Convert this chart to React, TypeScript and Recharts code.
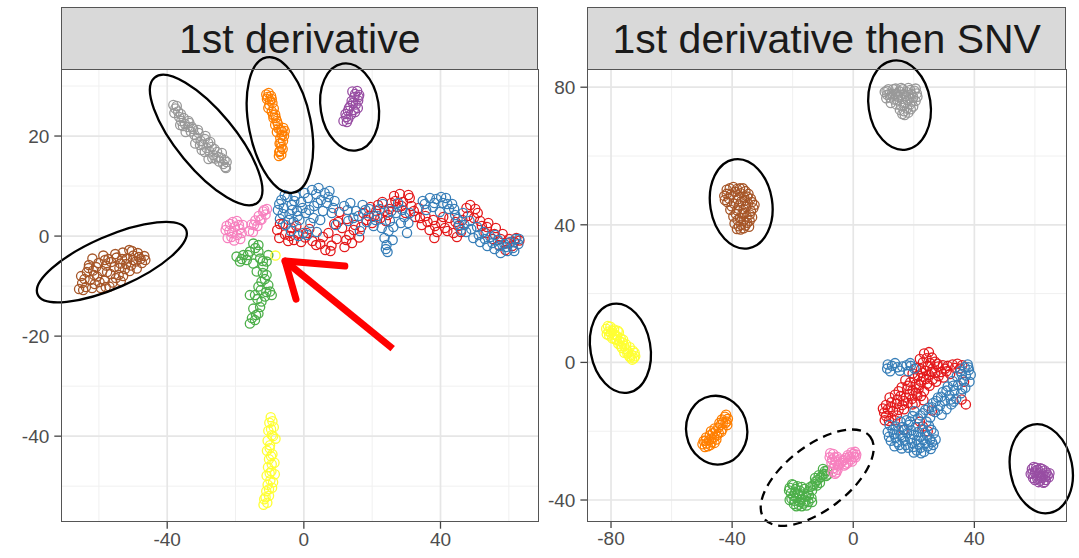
import React from 'react';
import {
  ScatterChart,
  Scatter,
  XAxis,
  YAxis,
  CartesianGrid,
  ReferenceDot,
  ReferenceLine,
} from 'recharts';

type Pt = [number, number];

// Set1 brewer palette, one colour per sample group
const RED = '#E41A1C';
const BLUE = '#377EB8';
const GREEN = '#4DAF4A';
const PURPLE = '#984EA3';
const ORANGE = '#FF7F00';
const YELLOW = '#FFFF33';
const BROWN = '#A65628';
const PINK = '#F781BF';
const GREY = '#999999';

// ---- panel 1: "1st derivative" ----
const d1Grey: Pt[] = [
  [-38.2, 26.2], [-37.6, 25.5], [-37.9, 24.6], [-36.8, 24.9], [-36.5, 23.8], [-35.9, 23.0], [-35.2, 23.6],
  [-34.8, 22.4], [-34.0, 21.8], [-33.5, 22.6], [-33.1, 20.9], [-32.4, 21.4], [-32.0, 20.2], [-31.3, 19.6],
  [-30.8, 20.6], [-30.2, 19.0], [-29.6, 18.3], [-29.0, 19.4], [-28.5, 17.6], [-28.0, 18.6], [-27.6, 16.9],
  [-27.0, 17.8], [-26.5, 16.2], [-25.9, 15.5], [-25.4, 16.8], [-24.8, 14.9], [-24.2, 15.6], [-23.6, 14.4],
  [-23.0, 13.8], [-22.6, 14.8], [-31.8, 18.5], [-29.9, 17.2], [-27.9, 15.4], [-34.6, 20.8], [-36.2, 22.2],
  [-37.2, 26.0], [-36.0, 24.4], [-35.4, 22.0], [-33.8, 23.0], [-32.8, 21.8], [-31.0, 21.2], [-30.4, 18.2],
  [-28.8, 20.0], [-27.4, 18.8], [-26.2, 17.4], [-25.0, 15.8], [-24.0, 16.6], [-23.2, 15.2], [-22.8, 13.6],
  [-26.8, 15.6], [-29.0, 16.8],
];
const d1Orange: Pt[] = [
  [-11.0, 28.3], [-10.3, 28.6], [-9.6, 28.0], [-10.8, 27.4], [-9.9, 27.1], [-9.2, 26.6], [-10.1, 26.2],
  [-8.8, 25.5], [-9.4, 24.9], [-8.4, 24.3], [-8.9, 23.6], [-7.9, 23.0], [-8.4, 22.2], [-7.4, 21.5],
  [-7.9, 20.8], [-6.4, 20.9], [-5.8, 20.0], [-6.9, 19.6], [-6.1, 19.0], [-7.1, 18.5], [-6.6, 17.8],
  [-7.0, 17.0], [-6.6, 16.3], [-7.3, 16.0], [-6.0, 21.6], [-10.6, 27.8], [-9.4, 27.4], [-10.4, 25.6],
  [-9.0, 24.2], [-8.2, 23.6], [-7.6, 22.4], [-6.8, 21.2], [-5.6, 21.0], [-6.4, 20.2], [-6.8, 18.6],
  [-6.2, 17.4], [-7.2, 16.8],
];
const d1Purple: Pt[] = [
  [14.2, 28.9], [15.6, 29.0], [16.2, 28.2], [14.8, 27.8], [15.9, 27.1], [14.0, 27.0], [15.2, 26.3],
  [13.6, 26.0], [14.6, 25.2], [12.9, 25.0], [13.8, 24.3], [12.4, 23.8], [11.6, 23.0], [12.6, 22.8], [15.8, 25.6],
  [15.0, 28.4], [16.0, 27.8], [14.4, 26.6], [13.2, 25.6], [12.2, 24.4], [13.0, 23.4], [15.0, 24.8],
];
const d1Brown: Pt[] = [
  [-65.8, -10.6], [-64.9, -9.4], [-65.2, -8.0], [-63.8, -10.2], [-63.5, -7.2], [-62.6, -8.8], [-62.9, -5.8],
  [-61.7, -6.9], [-61.2, -9.6], [-60.5, -8.1], [-60.1, -5.4], [-59.4, -10.4], [-59.0, -7.0], [-58.3, -8.9],
  [-57.9, -5.9], [-57.2, -4.6], [-56.6, -7.6], [-56.0, -9.3], [-55.5, -6.2], [-54.8, -4.3], [-54.2, -7.8],
  [-53.7, -5.5], [-53.0, -3.3], [-52.4, -6.6], [-51.8, -4.5], [-51.1, -2.8], [-50.6, -5.9], [-49.9, -3.9],
  [-49.2, -5.1], [-48.3, -4.2], [-47.4, -5.4], [-46.7, -4.0], [-55.2, -3.6], [-58.7, -3.9], [-61.9, -4.5],
  [-63.0, -6.4], [-50.3, -3.0], [-52.9, -8.0], [-48.9, -6.5], [-56.9, -10.1],
  [-64.6, -10.8], [-64.2, -8.6], [-62.0, -10.4], [-61.4, -7.8], [-60.8, -6.2], [-59.8, -9.2], [-58.0, -10.2],
  [-57.6, -7.2], [-56.4, -5.2], [-55.0, -8.4], [-54.0, -6.4], [-53.2, -4.6], [-52.0, -5.6], [-51.0, -7.0],
  [-50.0, -4.8], [-48.6, -3.4], [-47.8, -4.6], [-46.4, -4.8], [-53.6, -9.0], [-58.2, -4.8],
];
const d1Pink: Pt[] = [
  [-22.9, 1.2], [-22.3, -0.4], [-21.6, 2.4], [-21.0, 0.6], [-20.4, -0.9], [-20.2, 1.8], [-19.6, 3.0],
  [-19.5, 0.2], [-18.8, 1.4], [-18.6, -0.6], [-17.9, 2.2], [-16.0, 1.0], [-15.3, 2.3], [-14.9, 0.8],
  [-14.2, 3.1], [-13.6, 2.0], [-13.2, 4.0], [-12.4, 3.3], [-11.9, 4.9], [-11.2, 4.3], [-10.8, 5.4],
  [-22.6, 2.0], [-21.8, 1.0], [-20.8, 2.8], [-19.0, 2.2], [-18.2, 0.6], [-21.2, -0.2], [-14.6, 2.2],
  [-12.8, 3.2], [-11.6, 5.2],
];
const d1Green: Pt[] = [
  [-14.8, -1.5], [-13.3, -1.8], [-19.7, -4.1], [-17.7, -3.8], [-15.8, -3.1], [-12.8, -4.5], [-14.8, -5.5],
  [-10.4, -3.8], [-10.9, -5.1], [-11.9, -6.1], [-13.8, -7.1], [-10.9, -7.8], [-12.4, -9.1], [-13.3, -10.1],
  [-10.4, -9.8], [-9.9, -11.1], [-14.3, -11.8], [-11.4, -12.1], [-12.4, -13.1], [-14.8, -14.5], [-13.3, -15.5],
  [-14.3, -16.8], [-15.8, -17.5], [-18.7, -5.1], [-16.7, -4.8], [-13.3, -3.1], [-9.4, -11.8], [-15.8, -11.8],
  [-14.2, -2.4], [-16.4, -3.8], [-18.2, -4.6], [-12.0, -5.0], [-12.0, -7.4], [-11.4, -8.6], [-12.6, -10.8],
  [-11.0, -11.2], [-13.6, -12.6], [-12.8, -14.2], [-14.0, -15.8], [-15.2, -16.4],
];
const d1Yellow: Pt[] = [
  [-8.3, -3.9],
  [-9.7, -36.2], [-10.1, -37.3], [-8.8, -38.2], [-10.4, -38.9], [-9.4, -39.8], [-10.6, -40.9], [-8.3, -40.5],
  [-9.9, -41.8], [-10.8, -42.9], [-9.2, -43.6], [-10.2, -44.6], [-8.6, -45.3], [-10.5, -46.2], [-9.5, -47.0],
  [-8.5, -47.6], [-10.9, -47.9], [-9.8, -48.8], [-10.6, -49.7], [-9.3, -50.3], [-11.0, -51.0], [-10.2, -51.9],
  [-11.6, -52.6], [-10.7, -53.3], [-11.8, -53.7], [-9.2, -37.0], [-9.6, -38.6], [-9.0, -40.0], [-10.0, -42.4],
  [-9.6, -44.0], [-9.4, -45.6], [-10.0, -47.4], [-9.0, -49.2], [-10.2, -50.6], [-11.2, -52.2],
];
const d1Red: Pt[] = [
  [-7.8, 1.2], [-7.2, -0.4], [-6.1, 2.4], [-5.5, 0.3], [-4.6, -1.0], [-3.7, 1.6], [-2.9, -0.8], [-1.8, 0.5],
  [-0.8, -1.2], [0.4, -0.3], [1.6, 1.4], [2.5, -1.0], [4.8, -1.6], [6.3, -2.8], [7.2, 0.6], [8.1, -1.9],
  [8.9, 2.4], [9.6, -0.6], [10.4, 4.8], [11.2, 1.6], [11.9, -2.2], [12.6, 3.4], [13.3, 0.2], [14.1, -1.4],
  [15.0, 2.2], [16.2, -0.3], [17.4, 4.6], [18.3, 3.2], [19.5, 5.8], [20.6, 4.0], [21.7, 6.2], [22.4, 3.6],
  [23.6, 5.0], [24.6, 4.2], [25.6, 6.6], [26.4, 8.0], [27.3, 5.8], [28.1, 8.4], [29.0, 6.8], [29.8, 4.6],
  [30.6, 8.2], [31.5, 6.0], [32.6, 3.8], [33.6, 5.6], [34.5, 2.2], [35.6, 4.0], [36.8, 1.2], [37.9, 3.2],
  [39.0, 0.8], [40.2, 2.6], [41.3, 1.6], [42.6, 3.6], [43.8, 0.6], [45.2, 2.0], [46.4, 3.2], [47.6, 5.6],
  [48.7, 6.2], [49.8, 3.6], [50.9, 4.6], [52.1, 2.0], [53.2, 0.6], [54.0, 2.6], [55.2, -0.6], [56.2, 1.6],
  [57.1, -1.8], [58.2, 0.4], [59.0, -2.8], [60.1, -0.6], [61.0, -2.0], [62.2, -0.4], [63.1, -0.9],
  [-7.0, 2.4], [-4.0, 0.0], [-2.2, 2.0], [0.8, 0.6], [3.6, -1.8], [5.6, -0.2], [7.8, -3.0], [10.0, 2.8],
  [12.4, -0.8], [14.6, 1.2], [16.8, 1.8], [19.0, 4.0], [21.2, 5.0], [23.0, 6.8], [25.0, 5.4], [26.8, 7.0],
  [28.6, 6.0], [31.0, 7.6], [32.2, 5.0], [34.0, 3.6], [36.2, 2.8], [38.4, 2.0], [40.8, 3.8], [42.0, 1.0],
  [44.4, 2.8], [46.0, 0.8], [48.0, 4.0], [50.2, 5.4], [51.6, 3.0], [53.6, 1.8], [55.8, 0.4], [57.6, -0.6],
  [59.6, -1.4], [61.6, -1.2], [44.8, -0.2], [38.2, -0.4], [24.0, 3.0], [20.0, 2.6],
];
const d1Blue: Pt[] = [
  [-7.6, 5.2], [-7.0, 3.4], [-6.6, 7.2], [-5.9, 5.6], [-5.3, 2.2], [-4.8, 7.8], [-4.2, 4.4], [-3.6, 6.2],
  [-3.0, 2.8], [-2.5, 8.0], [-2.0, 5.0], [-1.3, 3.2], [-0.8, 6.8], [-0.2, 0.6], [0.6, 4.6], [1.2, 7.6],
  [1.9, 2.6], [2.4, 9.2], [3.0, 6.0], [3.6, 8.4], [4.3, 9.6], [5.0, 7.2], [5.6, 5.0], [6.1, 8.6],
  [6.8, 6.6], [7.5, 9.0], [8.2, 4.6], [9.0, 7.0], [9.4, 2.2], [1.0, 0.2], [-1.6, 0.0], [3.8, 0.8],
  [12.8, 5.2], [13.6, 6.6], [14.5, 3.6], [15.3, 5.0], [16.4, 1.0], [17.2, 6.2], [18.4, 2.8], [19.1, 5.4],
  [20.4, 2.0], [21.5, 4.0], [22.8, 1.6], [23.6, -0.4], [24.2, -1.8], [24.5, -3.2], [23.1, 6.4], [25.2, 3.0],
  [26.2, 1.8], [27.0, 4.6], [27.6, 6.6], [28.4, 2.6], [29.4, 3.8], [30.2, 0.6], [31.0, 4.6], [26.0, -0.8],
  [34.8, 7.0], [35.8, 5.2], [36.9, 7.6], [37.8, 5.8], [38.8, 7.4], [39.8, 4.8], [40.7, 6.6], [41.6, 7.6],
  [42.5, 5.4], [43.4, 6.4], [44.3, 4.2], [45.5, 2.2], [46.6, 4.6], [47.5, 0.8], [48.5, 3.0], [49.6, -0.4],
  [50.7, 1.8], [51.6, -1.2], [52.6, 0.8], [53.7, -2.0], [54.6, -0.2], [55.8, -2.6], [56.8, -0.8], [57.6, -3.4],
  [58.7, -1.6], [59.6, -3.0], [60.4, -1.2], [61.2, -2.4], [62.0, -0.6], [62.8, -1.6],
  [-7.2, 6.4], [-6.2, 4.4], [-5.6, 8.2], [-4.4, 3.2], [-3.4, 5.2], [-2.8, 7.0], [-1.8, 4.0], [-0.4, 5.6],
  [0.2, 8.6], [1.6, 5.2], [2.8, 3.6], [4.0, 6.6], [4.8, 3.2], [7.2, 7.8], [8.6, 5.6], [-3.8, 1.0],
  [11.8, 6.0], [13.0, 3.0], [16.0, 4.0], [18.0, 5.2], [21.0, 3.2], [22.2, 5.4], [24.8, 1.0], [24.0, -2.6],
  [25.6, 5.0], [28.8, 5.2], [30.6, 2.6], [35.4, 6.4], [38.2, 6.6], [40.2, 7.8], [42.0, 6.4], [44.0, 5.4],
  [45.0, 3.4], [47.0, 2.2], [49.0, 1.4], [51.2, 0.2], [53.0, -0.6], [55.2, -1.4], [57.2, -2.0], [59.2, -2.2],
  [61.6, -3.0], [63.0, -0.6], [56.0, 0.2], [46.0, 1.2],
];

// ---- panel 2: "1st derivative then SNV" ----
const d2Grey: Pt[] = [
  [10.4, 78.6], [11.6, 79.4], [12.8, 78.2], [14.0, 79.6], [15.2, 78.8], [16.4, 79.4], [17.6, 78.6], [18.8, 79.2],
  [20.2, 79.0], [21.0, 78.2], [10.9, 76.8], [12.2, 77.0], [13.5, 76.4], [14.8, 77.2], [16.0, 76.6], [17.4, 77.4],
  [18.6, 76.8], [19.8, 77.0], [20.6, 76.0], [12.4, 75.4], [14.2, 75.0], [15.8, 74.6], [17.2, 75.4], [18.8, 75.0],
  [19.8, 74.4], [15.4, 73.4], [16.8, 73.0], [18.2, 72.6], [17.0, 71.9], [19.0, 73.6], [11.2, 77.8], [13.6, 78.0],
  [11.0, 79.0], [13.2, 79.4], [15.8, 79.8], [18.2, 79.8], [20.6, 79.6], [12.0, 78.0], [14.4, 78.0], [16.8, 78.0],
  [19.2, 78.0], [21.2, 77.2], [13.0, 77.6], [15.6, 77.8], [18.0, 76.2], [19.4, 75.8], [16.6, 74.8], [14.6, 76.2],
  [16.2, 72.2], [17.8, 73.8],
];
const d2Brown: Pt[] = [
  [-41.8, 50.2], [-39.6, 51.0], [-37.4, 50.6], [-35.6, 49.8], [-42.6, 48.4], [-40.4, 48.8], [-38.2, 48.6],
  [-36.0, 48.0], [-33.8, 47.6], [-41.6, 46.6], [-39.4, 46.2], [-37.0, 46.8], [-34.8, 46.2], [-32.6, 45.8],
  [-40.6, 44.4], [-38.4, 44.2], [-36.2, 44.6], [-33.8, 44.0], [-39.6, 42.4], [-37.4, 42.0], [-35.2, 42.4],
  [-33.4, 42.2], [-39.2, 40.4], [-37.0, 40.0], [-35.0, 40.6], [-38.4, 38.8], [-36.2, 39.0], [-34.4, 39.4],
  [-41.0, 47.6], [-36.6, 43.2], [-40.8, 50.6], [-38.4, 50.4], [-36.4, 50.6], [-34.6, 49.0], [-41.8, 49.0],
  [-39.0, 49.6], [-37.2, 49.2], [-35.0, 48.2], [-42.4, 47.2], [-38.2, 47.4], [-35.8, 47.0], [-33.4, 46.6],
  [-40.2, 45.4], [-37.8, 45.6], [-35.4, 45.2], [-33.0, 44.8], [-38.8, 43.2], [-36.0, 43.4], [-34.2, 43.0],
  [-38.2, 41.4], [-36.2, 41.2], [-34.2, 41.2], [-37.8, 39.6], [-35.6, 39.8], [-37.2, 38.6],
];
const d2Yellow: Pt[] = [
  [-81.6, 9.8], [-80.2, 10.4], [-79.0, 9.6], [-81.4, 8.2], [-80.0, 8.6], [-78.6, 8.0], [-77.4, 8.8],
  [-79.6, 7.0], [-78.2, 6.6], [-76.8, 7.0], [-77.6, 5.4], [-76.2, 5.8], [-75.0, 5.2], [-76.4, 4.2],
  [-75.0, 3.8], [-73.8, 4.4], [-74.6, 2.6], [-73.2, 2.2], [-72.2, 2.8], [-73.6, 1.4], [-72.4, 1.2],
  [-80.8, 9.0], [-78.0, 7.6], [-75.6, 4.8], [-81.0, 10.6], [-79.6, 9.2], [-80.6, 7.8], [-79.0, 8.2],
  [-77.8, 9.2], [-78.8, 6.8], [-77.2, 6.2], [-76.0, 6.6], [-76.8, 4.8], [-74.4, 3.2], [-75.6, 2.8],
  [-72.8, 3.4], [-73.0, 0.8], [-72.0, 1.8], [-74.0, 1.8],
];
const d2Orange: Pt[] = [
  [-42.4, -15.8], [-41.4, -16.4], [-43.4, -16.6], [-42.2, -17.6], [-43.8, -18.2], [-44.6, -19.0], [-43.2, -19.4],
  [-45.4, -20.0], [-44.4, -20.6], [-46.4, -20.6], [-47.4, -21.2], [-46.0, -21.8], [-48.6, -21.8], [-47.6, -22.6],
  [-49.4, -22.8], [-48.4, -23.6], [-46.8, -23.2], [-49.8, -23.8], [-48.0, -24.4], [-45.2, -22.4], [-41.8, -17.2],
  [-42.0, -15.2], [-43.0, -17.4], [-41.6, -18.2], [-44.2, -17.6], [-43.6, -20.2], [-45.8, -19.2], [-45.0, -21.2],
  [-47.0, -20.0], [-46.8, -22.2], [-48.8, -22.8], [-47.2, -24.0], [-49.0, -24.6], [-45.8, -23.4],
];
const d2Green: Pt[] = [
  [-21.0, -36.4], [-19.8, -35.6], [-18.4, -36.0], [-20.6, -38.0], [-19.2, -37.8], [-17.6, -37.4], [-16.2, -36.8],
  [-20.4, -39.6], [-18.8, -39.4], [-17.2, -39.8], [-15.6, -39.0], [-19.6, -41.2], [-18.0, -41.4], [-16.4, -41.0],
  [-14.8, -40.6], [-13.8, -39.4], [-15.0, -37.6], [-14.2, -36.2], [-12.8, -35.4], [-11.8, -34.2], [-10.8, -33.4],
  [-9.6, -32.4], [-8.6, -31.4], [-10.0, -31.0], [-11.4, -32.8], [-12.6, -33.6], [-9.0, -33.0], [-17.8, -38.6],
  [-20.2, -35.4], [-19.0, -36.8], [-17.0, -36.2], [-21.2, -37.2], [-19.8, -38.8], [-18.2, -38.2], [-16.8, -38.4],
  [-21.0, -40.0], [-19.4, -40.2], [-17.6, -40.6], [-15.8, -40.4], [-18.8, -41.8], [-17.0, -41.8], [-15.4, -41.6],
  [-13.6, -40.6], [-14.6, -38.6], [-13.6, -37.2], [-12.0, -35.8], [-11.0, -35.0], [-10.2, -32.8], [-9.4, -31.6],
  [-8.4, -32.6], [-12.4, -34.6], [-13.4, -35.8],
];
const d2Pink: Pt[] = [
  [-7.8, -27.6], [-6.6, -26.6], [-5.4, -27.4], [-7.2, -29.2], [-5.8, -28.8], [-4.6, -29.6], [-6.6, -30.8],
  [-5.2, -31.2], [-6.0, -32.4], [-3.6, -28.6], [-2.4, -27.8], [-1.2, -27.4], [0.0, -26.6], [0.8, -27.6],
  [-0.4, -28.8], [-1.8, -29.2], [0.6, -26.0], [-3.0, -30.0], [-7.6, -26.4], [-6.2, -27.6], [-7.0, -28.2],
  [-6.2, -29.8], [-5.0, -30.0], [-6.8, -31.8], [-5.6, -32.0], [-4.0, -29.2], [-3.0, -28.4], [-1.8, -27.0],
  [-0.6, -26.2], [0.2, -27.4], [-0.8, -28.2], [1.0, -26.8], [-2.4, -29.6], [-4.6, -28.2],
];
const d2Purple: Pt[] = [
  [59.0, -31.0], [60.4, -30.6], [61.8, -30.8], [63.2, -31.4], [58.6, -32.4], [60.0, -32.0], [61.4, -32.2],
  [62.8, -32.6], [64.2, -32.8], [59.4, -33.6], [60.8, -33.8], [62.2, -33.6], [63.6, -34.2], [61.2, -34.8],
  [62.8, -35.0], [64.6, -33.4], [59.6, -30.4], [61.0, -31.2], [62.4, -31.0], [63.8, -32.0], [59.2, -32.2],
  [60.6, -32.8], [62.0, -33.0], [63.4, -33.2], [64.8, -32.2], [60.0, -34.2], [61.8, -34.4], [63.2, -34.8],
  [60.4, -31.4], [61.6, -33.6],
];
const d2Red: Pt[] = [
  [23.4, 2.6], [25.0, 3.0], [24.2, 1.2], [26.0, 1.4], [23.0, 0.0], [25.4, -0.2], [27.0, 0.2],
  [20.8, -1.6], [22.4, -2.0], [24.0, -2.4], [26.2, -1.8], [28.0, -1.2], [29.6, -0.8], [31.2, -1.0],
  [32.8, -0.6], [34.4, -0.4], [36.0, -0.8], [19.6, -3.2], [21.4, -3.8], [23.2, -4.2], [25.0, -3.6],
  [27.0, -3.0], [29.0, -2.8], [30.8, -2.6], [17.2, -5.2], [18.8, -5.8], [20.6, -6.4], [22.4, -5.6],
  [24.4, -6.2], [26.2, -5.0], [16.0, -7.2], [17.8, -7.8], [19.6, -8.2], [21.6, -7.6], [23.4, -8.4],
  [13.8, -9.4], [15.6, -9.8], [17.4, -10.2], [19.4, -10.6], [21.2, -9.6], [12.6, -11.6], [14.4, -12.0],
  [16.2, -12.4], [18.0, -11.8], [11.4, -13.6], [13.2, -14.2], [15.0, -13.8], [10.8, -15.6], [12.6, -16.2],
  [14.4, -15.4], [11.8, -17.0], [35.8, -10.8], [37.2, -12.2], [36.6, -5.6], [23.0, -18.6], [24.6, -20.0],
  [22.0, -17.2], [26.0, -14.0], [16.6, -19.6],
  [22.0, 1.0], [24.6, -1.0], [27.8, -0.4], [30.4, -1.8], [33.6, -1.6], [35.2, -1.8], [20.2, -4.6],
  [22.8, -3.0], [26.0, -2.8], [28.2, -4.0], [24.0, -4.8], [18.0, -6.8], [21.8, -6.6], [25.2, -6.8],
  [27.4, -5.6], [15.0, -8.4], [18.6, -9.2], [20.8, -8.8], [22.4, -9.8], [12.0, -10.2], [14.6, -10.8],
  [16.8, -11.2], [19.6, -12.2], [10.8, -12.4], [12.4, -13.0], [16.8, -13.6], [10.2, -14.6], [13.8, -16.8],
  [10.4, -16.8], [9.8, -13.4], [29.8, -4.4], [32.0, -3.4], [23.2, -11.0], [20.6, -11.8],
];
const d2Blue: Pt[] = [
  [11.4, -0.6], [12.8, -1.0], [12.2, -2.6], [14.6, -1.4], [16.2, -1.2], [17.6, -0.8], [19.0, -1.0],
  [20.2, -1.8], [18.2, -2.6], [36.8, -1.4], [38.2, -2.2], [35.4, -2.6], [37.2, -3.8], [34.2, -4.0],
  [36.2, -5.0], [38.4, -5.6], [32.8, -5.4], [34.6, -6.6], [37.0, -7.4], [31.2, -7.0], [33.4, -8.2],
  [35.6, -9.0], [29.6, -8.6], [31.8, -9.6], [34.0, -10.6], [28.0, -10.2], [30.2, -11.2], [32.4, -12.2],
  [26.4, -11.8], [28.6, -12.6], [30.8, -13.6], [24.8, -13.2], [27.0, -14.4], [29.2, -15.2], [23.0, -14.8],
  [25.4, -16.0], [21.4, -16.2], [19.6, -15.6], [17.6, -16.8], [15.6, -17.2], [12.0, -18.2], [14.0, -18.6],
  [16.2, -18.8], [18.4, -18.2], [20.6, -18.8], [22.8, -19.4], [25.0, -18.4], [11.4, -20.2], [13.4, -20.8],
  [15.6, -21.2], [17.8, -20.6], [20.0, -21.0], [22.2, -21.6], [24.4, -21.4], [26.6, -20.6], [12.4, -22.8],
  [14.6, -23.2], [17.0, -22.8], [19.4, -23.4], [21.6, -23.8], [23.8, -23.6], [26.0, -23.2], [16.0, -25.0],
  [18.2, -24.8], [21.0, -25.6], [23.4, -26.0], [25.6, -25.2], [27.2, -22.4],
  [11.2, -1.8], [13.8, -0.2], [15.4, -2.4], [18.8, -0.2], [37.8, -0.6], [38.8, -3.6], [35.8, -3.4],
  [33.0, -6.8], [36.0, -7.8], [32.2, -10.8], [30.8, -8.2], [29.0, -10.0], [27.4, -11.2], [26.0, -13.0],
  [23.8, -13.8], [22.2, -15.4], [20.2, -14.2], [24.2, -17.2], [28.0, -13.8], [33.2, -11.4], [18.8, -17.2],
  [13.0, -19.6], [15.0, -19.8], [17.0, -19.6], [19.2, -19.8], [21.4, -20.2], [23.6, -20.4], [25.8, -19.6],
  [11.8, -21.6], [14.0, -22.0], [16.4, -21.8], [18.8, -22.2], [21.0, -22.6], [23.2, -22.6], [25.4, -22.4],
  [13.6, -24.4], [15.2, -24.0], [17.4, -24.0], [19.8, -24.6], [22.2, -24.8], [24.6, -24.4], [20.0, -26.2],
  [22.4, -26.4], [26.4, -24.0], [38.0, -1.4],
];

// axis breaks
const p1XTicks = [-40, 0, 40];
const p1XMinor = [-60, -20, 20, 60];
const p1YTicks = [-40, -20, 0, 20];
const p1YMinor = [-50, -30, -10, 10, 30];
const p2XTicks = [-80, -40, 0, 40];
const p2XMinor = [-60, -20, 20, 60];
const p2YTicks = [-40, 0, 40, 80];
const p2YMinor = [-20, 20, 60];

// hand-drawn annotations: centre in data units, radii in px, rotation in degrees
const p1Rings = [
  { x: -28.6, y: 19.2, rx: 81, ry: 29, rot: 50.5 },
  { x: -7.0, y: 22.2, rx: 69, ry: 31, rot: 78.8 },
  { x: 13.4, y: 25.8, rx: 44, ry: 29, rot: 80.7 },
  { x: -56.2, y: -5.2, rx: 81, ry: 26, rot: -23.6 },
];
const p2Rings = [
  { x: 15.3, y: 74.8, rx: 45, ry: 31, rot: 81.5 },
  { x: -37.0, y: 46.1, rx: 45, ry: 31, rot: 81 },
  { x: -76.9, y: 4.1, rx: 45, ry: 30, rot: 80 },
  { x: -45.1, y: -19.7, rx: 34.5, ry: 30.5, rot: 80 },
  { x: 62.1, y: -30.9, rx: 45, ry: 31, rot: 79 },
  { x: -11.9, y: -33.5, rx: 67, ry: 32, rot: -37.7, dashed: true },
];
// red arrow: tail, tip, two barbs
const arrowTail = { x: 26.0, y: -22.5 };
const arrowTip = { x: -5.5, y: -5.0 };
const arrowBarbs = [{ x: 12.0, y: -6.0 }, { x: -2.3, y: -12.6 }];

const H = 558;
const STRIP_TOP = 7;
const FONT = '"Liberation Sans", Arial, Helvetica, sans-serif';

const rows = (pts: Pt[]) => pts.map(([x, y]) => ({ x, y }));

const ring = (color: string) => (p: any) => (
  <circle cx={p.cx} cy={p.cy} r={4.6} fill="none" stroke={color} strokeWidth={1.3} />
);

type PanelProps = {
  title: string;
  left: number;
  width: number;
  margin: { top: number; right: number; bottom: number; left: number };
  yAxisWidth: number;
  xDomain: [number, number];
  yDomain: [number, number];
  xTicks: number[];
  xMinor: number[];
  yTicks: number[];
  yMinor: number[];
  series: { color: string; points: Pt[] }[];
  rings: { x: number; y: number; rx: number; ry: number; rot: number; dashed?: boolean }[];
  arrow?: boolean;
};

function Panel(props: PanelProps) {
  const { title, left, width, margin, yAxisWidth } = props;
  const xAxisH = 30;
  const plotL = margin.left + yAxisWidth;
  const plotR = width - margin.right;
  const plotT = margin.top;
  const plotB = H - margin.bottom - xAxisH;
  const tick = { fill: '#4d4d4d', fontSize: 19, fontFamily: FONT };

  return (
    <div style={{ position: 'absolute', left, top: 0, width, height: H }}>
      <div
        style={{
          position: 'absolute',
          left: plotL,
          top: STRIP_TOP,
          width: plotR - plotL,
          height: plotT - STRIP_TOP,
          boxSizing: 'border-box',
          background: '#d9d9d9',
          border: '1.5px solid #555',
          display: 'flex',
          alignItems: 'center',
          justifyContent: 'center',
          fontFamily: FONT,
          fontSize: 41,
          color: '#1a1a1a',
          lineHeight: 1,
          paddingTop: 2,
        }}
      >
        {title}
      </div>
      <div style={{ position: 'absolute', left: 0, top: 0 }}>
        <ScatterChart width={width} height={H} margin={margin}>
          <CartesianGrid
            verticalValues={props.xMinor}
            horizontalValues={props.yMinor}
            stroke="#f0f0f0"
            strokeWidth={1}
          />
          <CartesianGrid
            verticalValues={props.xTicks}
            horizontalValues={props.yTicks}
            stroke="#e6e6e6"
            strokeWidth={1.7}
          />
          <XAxis
            type="number"
            dataKey="x"
            domain={props.xDomain}
            ticks={props.xTicks}
            interval={0}
            allowDataOverflow
            axisLine={false}
            tickLine={{ stroke: '#444', strokeWidth: 1.3 }}
            tickSize={7}
            tickMargin={4}
            height={xAxisH}
            tick={tick}
          />
          <YAxis
            type="number"
            dataKey="y"
            domain={props.yDomain}
            ticks={props.yTicks}
            interval={0}
            allowDataOverflow
            axisLine={false}
            tickLine={{ stroke: '#444', strokeWidth: 1.3 }}
            tickSize={7}
            tickMargin={5}
            width={yAxisWidth}
            tick={tick}
          />
          {props.series.map((s, i) => (
            <Scatter key={i} data={rows(s.points)} shape={ring(s.color)} isAnimationActive={false} />
          ))}
          {props.rings.map((r, i) => (
            <ReferenceDot
              key={`ring-${i}`}
              x={r.x}
              y={r.y}
              r={1}
              ifOverflow="visible"
              shape={(p: any) => (
                <ellipse
                  cx={p.cx}
                  cy={p.cy}
                  rx={r.rx}
                  ry={r.ry}
                  transform={`rotate(${r.rot} ${p.cx} ${p.cy})`}
                  fill="none"
                  stroke="#000"
                  strokeWidth={2.3}
                  strokeDasharray={r.dashed ? '9 6' : undefined}
                />
              )}
            />
          ))}
          {props.arrow && (
            <ReferenceLine
              segment={[arrowTail, arrowTip]}
              stroke="#ff0000"
              strokeWidth={7}
              ifOverflow="visible"
            />
          )}
          {props.arrow &&
            arrowBarbs.map((b, i) => (
              <ReferenceLine
                key={`barb-${i}`}
                segment={[arrowTip, b]}
                stroke="#ff0000"
                strokeWidth={7}
                strokeLinecap="round"
                ifOverflow="visible"
              />
            ))}
        </ScatterChart>
      </div>
      <div
        style={{
          position: 'absolute',
          left: plotL - 0.75,
          top: plotT - 0.75,
          width: plotR - plotL + 1.5,
          height: plotB - plotT + 1.5,
          boxSizing: 'border-box',
          border: '1.5px solid #555',
          pointerEvents: 'none',
        }}
      />
    </div>
  );
}

export default function App() {
  return (
    <div style={{ position: 'absolute', left: 0, top: 0, width: 1079, height: H, background: '#fff', overflow: 'hidden' }}>
      <Panel
        title="1st derivative"
        left={0}
        width={545}
        margin={{ top: 70, right: 6.8, bottom: 6.3, left: 6.3 }}
        yAxisWidth={55}
        xDomain={[-71, 68.6]}
        yDomain={[-57.1, 33.2]}
        xTicks={p1XTicks}
        xMinor={p1XMinor}
        yTicks={p1YTicks}
        yMinor={p1YMinor}
        series={[
          { color: GREY, points: d1Grey },
          { color: ORANGE, points: d1Orange },
          { color: PURPLE, points: d1Purple },
          { color: BROWN, points: d1Brown },
          { color: PINK, points: d1Pink },
          { color: GREEN, points: d1Green },
          { color: YELLOW, points: d1Yellow },
          { color: RED, points: d1Red },
          { color: BLUE, points: d1Blue },
        ]}
        rings={p1Rings}
        arrow
      />
      <Panel
        title="1st derivative then SNV"
        left={540}
        width={539}
        margin={{ top: 70, right: 12.9, bottom: 7, left: 5.4 }}
        yAxisWidth={42}
        xDomain={[-87.8, 70.3]}
        yDomain={[-46.1, 85.0]}
        xTicks={p2XTicks}
        xMinor={p2XMinor}
        yTicks={p2YTicks}
        yMinor={p2YMinor}
        series={[
          { color: GREY, points: d2Grey },
          { color: BROWN, points: d2Brown },
          { color: YELLOW, points: d2Yellow },
          { color: ORANGE, points: d2Orange },
          { color: GREEN, points: d2Green },
          { color: PINK, points: d2Pink },
          { color: PURPLE, points: d2Purple },
          { color: RED, points: d2Red },
          { color: BLUE, points: d2Blue },
        ]}
        rings={p2Rings}
      />
    </div>
  );
}
